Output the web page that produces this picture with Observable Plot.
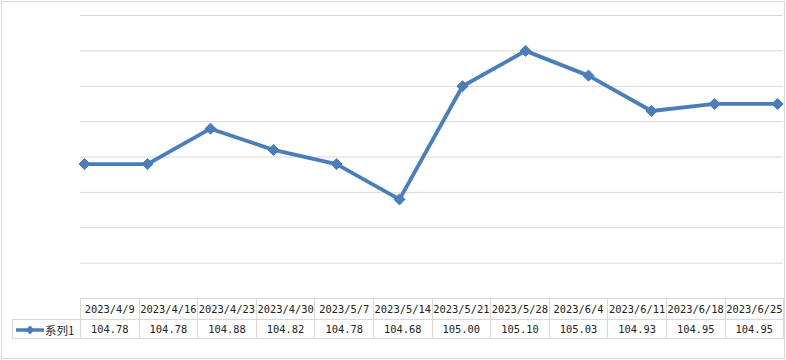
<!DOCTYPE html>
<html>
<head>
<meta charset="utf-8">
<script src="https://cdn.jsdelivr.net/npm/d3@7"></script>
<script src="https://cdn.jsdelivr.net/npm/@observablehq/plot@0.6"></script>
<style>
  body { margin: 0; background: #fff; }
  #wrap { position: relative; width: 786px; height: 360px; overflow: hidden; }
  #border { position: absolute; left: 1px; top: 1px; width: 782px; height: 356px; border: 1px solid #d9d9d9; pointer-events: none; }
  #tbl { position: absolute; left: 12px; top: 298px; border-collapse: collapse; font-family: "DejaVu Sans Mono", "Noto Sans CJK SC", monospace; font-size: 10.4px; color: #222; }
  #tbl td { border: 1px solid #d9d9d9; padding: 0; text-align: center; white-space: nowrap; }
  #tbl tr.h td { height: 18px; line-height: 20px; }
  #tbl tr.v td { height: 16px; line-height: 16px; }
  #tbl td.blank { border: none; }
  #tbl td.col { width: 57.6px; }
  #tbl td.leg { width: 67px; text-align: left; font-family: "Noto Sans CJK SC", sans-serif; font-size: 11.5px; }
</style>
</head>
<body>
<div id="wrap"></div>
<script>
const categories = ["2023/4/9","2023/4/16","2023/4/23","2023/4/30","2023/5/7","2023/5/14","2023/5/21","2023/5/28","2023/6/4","2023/6/11","2023/6/18","2023/6/25"];
const values = [104.78,104.78,104.88,104.82,104.78,104.68,105.00,105.10,105.03,104.93,104.95,104.95];
const valueLabels = ["104.78","104.78","104.88","104.82","104.78","104.68","105.00","105.10","105.03","104.93","104.95","104.95"];
const yTicks = [104.4,104.5,104.6,104.7,104.8,104.9,105.0,105.1,105.2];
const seriesName = "系列1";
const color = "#4a7ebb";

const data = categories.map((c, i) => ({date: c, value: values[i]}));

const chart = Plot.plot({
  width: 786,
  height: 360,
  marginTop: 15,
  marginBottom: 62,
  marginLeft: 80,
  marginRight: 3,
  x: {type: "point", domain: categories, range: [82, 779], padding: 0, axis: null},
  y: {domain: [104.4, 105.2], axis: null},
  marks: [
    Plot.ruleY(yTicks, {stroke: "#d9d9d9", strokeWidth: 1, strokeOpacity: 1}),
    Plot.line(data, {x: "date", y: "value", stroke: color, strokeWidth: 3.8, strokeLinejoin: "round"}),
    Plot.dot(data, {x: "date", y: "value", symbol: "diamond2", r: 5, fill: color, stroke: color, strokeWidth: 1})
  ]
});

const wrap = document.getElementById("wrap");
wrap.appendChild(chart);
chart.style.position = "absolute";
chart.style.left = "0px";
chart.style.top = "0px";

const border = document.createElement("div");
border.id = "border";
wrap.appendChild(border);

const tbl = document.createElement("table");
tbl.id = "tbl";
const r1 = tbl.insertRow(); r1.className = "h";
const blank = r1.insertCell(); blank.className = "blank";
blank.style.borderRight = "1px solid #d9d9d9";
categories.forEach(c => { const td = r1.insertCell(); td.className = "col"; td.textContent = c; });
const r2 = tbl.insertRow(); r2.className = "v";
const leg = r2.insertCell(); leg.className = "leg";
leg.innerHTML = `<svg width="30" height="10" style="vertical-align:middle;margin-left:2px"><line x1="1" y1="5" x2="29" y2="5" stroke="${color}" stroke-width="3.5"/><path d="M15 0.5 L19.5 5 L15 9.5 L10.5 5 Z" fill="${color}"/></svg><span style="vertical-align:middle">${seriesName}</span>`;
valueLabels.forEach(v => { const td = r2.insertCell(); td.className = "col"; td.textContent = v; });
wrap.appendChild(tbl);
</script>
</body>
</html>
